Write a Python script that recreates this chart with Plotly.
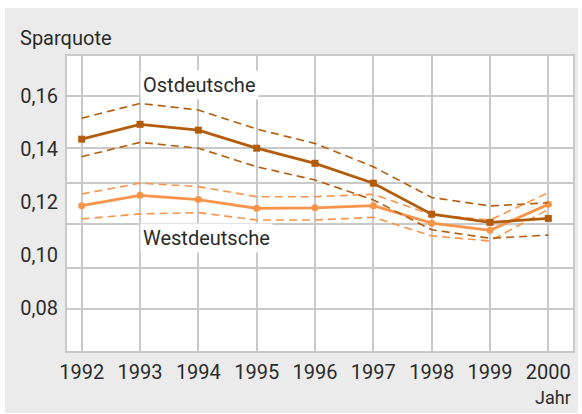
import plotly.graph_objects as go

years = [1992, 1993, 1994, 1995, 1996, 1997, 1998, 1999, 2000]

ost = [0.1437, 0.1493, 0.1471, 0.1403, 0.1346, 0.1271, 0.1154, 0.1123, 0.1138]
ost_upper = [0.1516, 0.1572, 0.1547, 0.1475, 0.1421, 0.1333, 0.1217, 0.1185, 0.1197]
ost_lower = [0.1371, 0.1425, 0.1403, 0.1333, 0.1283, 0.1208, 0.1095, 0.1063, 0.1075]

west = [0.1186, 0.1225, 0.1209, 0.1176, 0.1178, 0.1186, 0.1120, 0.1093, 0.1191]
west_upper = [0.1230, 0.1271, 0.1258, 0.1220, 0.1220, 0.1229, 0.1152, 0.1132, 0.1235]
west_lower = [0.1136, 0.1155, 0.1160, 0.1132, 0.1132, 0.1142, 0.1072, 0.1053, 0.1172]

y_ticks = [0.16, 0.14, 0.12, 0.10, 0.08]
y_ticktext = ["0,16", "0,14", "0,12", "0,10", "0,08"]
y_grid = [0.1600, 0.1404, 0.1273, 0.1116, 0.0952, 0.0795]

OST_C = "#b35d0c"
WEST_C = "#f7944a"
TEXT_C = "#2b2b2b"
GRID_C = "#c9c9c9"
PANEL_C = "#ebebeb"
FONT = "Roboto"

fig = go.Figure()

def add(yvals, color, dashed, symbol=None):
    if dashed:
        fig.add_trace(go.Scatter(x=years, y=yvals, mode="lines",
                                 line=dict(color=color, width=1.6, dash="8px,5px"),
                                 hoverinfo="skip"))
    else:
        fig.add_trace(go.Scatter(x=years, y=yvals, mode="lines+markers",
                                 line=dict(color=color, width=2.8),
                                 marker=dict(color=color, size=7, symbol=symbol),
                                 hoverinfo="skip"))

add(west_upper, WEST_C, True)
add(west_lower, WEST_C, True)
add(west, WEST_C, False, "circle")
add(ost_upper, OST_C, True)
add(ost_lower, OST_C, True)
add(ost, OST_C, False, "square")

# dummy trace on label axis
fig.add_trace(go.Scatter(x=[years[0]], y=[y_ticks[0]], yaxis="y2", mode="markers",
                         marker=dict(opacity=0), hoverinfo="skip"))

L, R, T, B = 67, 9, 56, 63
W, H = 582, 414
pw, ph = W - L - R, H - T - B

def px(x):
    return (x - L) / pw

def py(y):
    return (H - B - y) / ph

yrange = [0.06377, 0.17509]

fig.update_layout(
    template="none",
    width=W, height=H,
    margin=dict(l=L, r=R, t=T, b=B, pad=0, autoexpand=False),
    paper_bgcolor="white",
    plot_bgcolor="white",
    showlegend=False,
    hovermode=False,
    font=dict(family=FONT, size=20, color=TEXT_C),
    xaxis=dict(range=[1991.748, 2000.423], tickvals=years, ticktext=[str(y) for y in years],
               automargin=False,
               showgrid=True, gridcolor=GRID_C, gridwidth=1.5, zeroline=False,
               showline=True, linecolor=GRID_C, linewidth=1.5, mirror=True,
               ticks="", ticklabelstandoff=2, tickfont=dict(size=20, color=TEXT_C)),
    yaxis=dict(range=yrange, tickvals=y_grid, showticklabels=False, automargin=False,
               showgrid=True, gridcolor=GRID_C, gridwidth=1.5, zeroline=False,
               showline=True, linecolor=GRID_C, linewidth=1.5, mirror=True, ticks=""),
    yaxis2=dict(range=yrange, overlaying="y", side="left", tickvals=y_ticks, ticktext=y_ticktext,
                automargin=False,
                showgrid=False, zeroline=False, showline=False, ticks="",
                ticklabelstandoff=8, tickfont=dict(size=20, color=TEXT_C)),
    shapes=[
        dict(type="rect", xref="paper", yref="paper", x0=px(5), x1=px(578), y0=py(413), y1=py(8),
             fillcolor=PANEL_C, line=dict(width=0), layer="below"),
        dict(type="rect", xref="paper", yref="paper", x0=0, x1=1, y0=0, y1=1,
             fillcolor="white", line=dict(width=0), layer="below"),
    ],
    annotations=[
        dict(text="Sparquote", xref="paper", yref="paper", x=px(18), y=py(38),
             xanchor="left", yanchor="middle", showarrow=False, font=dict(size=20, color=TEXT_C)),
        dict(text="Jahr", xref="paper", yref="paper", x=px(573), y=py(397),
             xanchor="right", yanchor="middle", showarrow=False, font=dict(size=18, color=TEXT_C)),
        dict(text="Ostdeutsche", xref="x", yref="y", x=1993, y=0.1642,
             xanchor="left", yanchor="middle", showarrow=False, bgcolor="white", borderpad=2,
             font=dict(size=20, color=TEXT_C)),
        dict(text="Westdeutsche", xref="x", yref="y", x=1993, y=0.1064,
             xanchor="left", yanchor="middle", showarrow=False, bgcolor="white", borderpad=2,
             font=dict(size=20, color=TEXT_C)),
    ],
)

fig.write_html("out.html", config=dict(displayModeBar=False),
               post_script="document.body.style.margin='0';document.body.style.overflow='hidden';")
